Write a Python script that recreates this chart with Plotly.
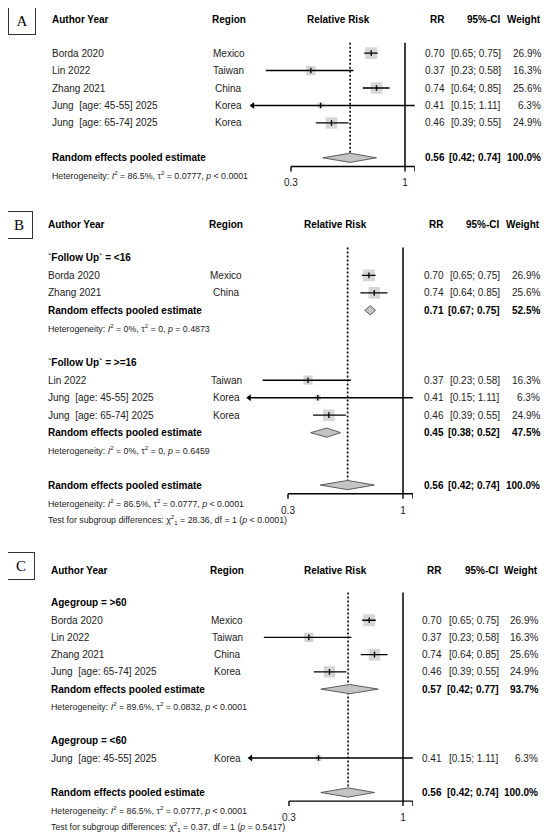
import math
import plotly.graph_objects as go

# ---- data ----
study = ["Borda 2020", "Lin 2022", "Zhang 2021", "Jung  [age: 45-55] 2025", "Jung  [age: 65-74] 2025"]
region = ["Mexico", "Taiwan", "China", "Korea", "Korea"]
rr = [0.70, 0.37, 0.74, 0.41, 0.46]
ci_lo = [0.65, 0.23, 0.64, 0.15, 0.39]
ci_hi = [0.75, 0.58, 0.85, 1.11, 0.55]
weight = [26.9, 16.3, 25.6, 6.3, 24.9]

overall_est = [0.56, 0.42, 0.74, 100.0]
overall_het = ["86.5%", "0.0777", "&lt; 0.0001"]

fu_labels = ["`Follow Up` = &lt;16", "`Follow Up` = &gt;=16"]
fu_members = [[0, 2], [1, 3, 4]]
fu_pooled = [[0.71, 0.67, 0.75, 52.5], [0.45, 0.38, 0.52, 47.5]]
fu_het = [["0%", "0", " = 0.4873"], ["0%", "0", " = 0.6459"]]
fu_test = ["28.36", "1", "&lt; 0.0001"]

age_labels = ["Agegroup = &gt;60", "Agegroup = &lt;60"]
age_members = [[0, 1, 2, 4], [3]]
age_pooled = [[0.57, 0.42, 0.77, 93.7], None]
age_het = [["89.6%", "0.0832", "&lt; 0.0001"], None]
age_test = ["0.37", "1", "= 0.5417"]

tick_vals = [0.3, 1, 1.11]
tick_labels = ["0.3", "1"]

# ---- layout / styling ----
# the page body has an 8px margin, so the figure is shrunk by that much and all
# pixel positions below are given in window coordinates
OFF = 8
W, H = 550 - OFF, 839 - OFF
XMIN, XMAX = 0.2, 1.11
FONT = "Liberation Sans, Arial, sans-serif"
TXT = "#222222"
SQ = "#c4c4c4"

GEO = {
    "A": dict(y0=18.2, dy=17.45, lab=50, reg=229, rr=447, ci=503, wt=543, rel=338, t03=291, t1=405, box=(8, 7)),
    "B": dict(y0=223.0, dy=17.47, lab=46, reg=226, rr=446, ci=502, wt=542, rel=335, t03=288, t1=403, box=(5, 212)),
    "C": dict(y0=568.5, dy=17.23, lab=49, reg=227, rr=444, ci=501, wt=540, rel=335.5, t03=289, t1=403, box=(7, 552)),
}

panels = [
    ("A", [(None, [0, 1, 2, 3, 4], None, None)], None),
    ("B", [(fu_labels[k], fu_members[k], fu_pooled[k], fu_het[k]) for k in range(2)], fu_test),
    ("C", [(age_labels[k], age_members[k], age_pooled[k], age_het[k]) for k in range(2)], age_test),
]


def paper_x(px):
    return (px - OFF) / W


def paper_y(py):
    return 1 - (py - OFF) / H


def het_text(h):
    return (f"Heterogeneity: <i>I</i><sup>2</sup> = {h[0]}, \u03c4<sup>2</sup> = {h[1]}, "
            f"<i>p</i> {h[2].strip()}")


def fmt_ci(lo, hi):
    return f"[{lo:.2f}; {hi:.2f}]"


fig = go.Figure()
ann = []

for n, (letter, groups, test) in enumerate(panels, start=1):
    g = GEO[letter]
    sfx = "" if n == 1 else str(n)
    xa, ya = "x" + sfx, "y" + sfx

    def px(v):
        return g["t03"] + (math.log(v) - math.log(0.3)) / math.log(1 / 0.3) * (g["t1"] - g["t03"])

    def txt(s, x, row, anchor="left", size=10, bold=False, color=TXT):
        ann.append(dict(text=f"<b>{s}</b>" if bold else s, x=paper_x(x), xref="paper", y=row, yref=ya,
                        xanchor=anchor, yanchor="middle", showarrow=False,
                        font=dict(family=FONT, size=size, color=color)))

    # headers
    hr = 0.1
    txt("Author Year", g["lab"], hr, bold=True, color="black")
    txt("Region", g["reg"], hr, "center", bold=True, color="black")
    txt("Relative Risk", g["rel"], hr, "center", bold=True, color="black")
    txt("RR", g["rr"], hr, "right", bold=True, color="black")
    txt("95%-CI", g["ci"], hr, "right", bold=True, color="black")
    txt("Weight", g["wt"], hr, "right", bold=True, color="black")

    # panel letter box
    bx, by = g["box"]
    ann.append(dict(text=letter, x=paper_x(bx + 13.5), y=paper_y(by + 13.5), xref="paper", yref="paper",
                    xanchor="center", yanchor="middle",
                    showarrow=False, width=24, height=24, borderpad=1, bordercolor="#333", borderwidth=1,
                    font=dict(family="Liberation Serif, Times New Roman, serif", size=15, color="black")))

    # walk the rows
    r = 2
    st_x, st_y, st_s, ci_x, ci_y, ar_x, ar_y = [], [], [], [], [], [], []
    diamonds = []
    for label, members, pooled, het in groups:
        if label:
            txt(label, g["lab"], r, bold=True, color="black")
            r += 1
        for i in members:
            txt(study[i], g["lab"], r)
            txt(region[i], g["reg"], r, "center")
            txt(f"{rr[i]:.2f}", g["rr"], r, "right")
            txt(fmt_ci(ci_lo[i], ci_hi[i]), g["ci"], r, "right")
            txt(f"{weight[i]:.1f}%", g["wt"], r, "right")
            st_x.append(rr[i]); st_y.append(r); st_s.append(2.3 * math.sqrt(weight[i]))
            ci_x += [max(ci_lo[i], XMIN), min(ci_hi[i], XMAX), None]
            ci_y += [r, r, None]
            if ci_lo[i] < XMIN:
                ar_x.append(XMIN); ar_y.append(r)
            r += 1
        if pooled:
            txt("Random effects pooled estimate", g["lab"], r, bold=True, color="black")
            txt(f"{pooled[0]:.2f}", g["rr"], r, "right", bold=True, color="black")
            txt(fmt_ci(pooled[1], pooled[2]), g["ci"], r, "right", bold=True, color="black")
            txt(f"{pooled[3]:.1f}%", g["wt"], r, "right", bold=True, color="black")
            diamonds.append((pooled, r))
            r += 1
        if het:
            txt(het_text(het), g["lab"], r, size=8.8)
            r += 1
        r += 1

    ov_row = r
    txt("Random effects pooled estimate", g["lab"], ov_row, bold=True, color="black")
    txt(f"{overall_est[0]:.2f}", g["rr"], ov_row, "right", bold=True, color="black")
    txt(fmt_ci(overall_est[1], overall_est[2]), g["ci"], ov_row, "right", bold=True, color="black")
    txt(f"{overall_est[3]:.1f}%", g["wt"], ov_row, "right", bold=True, color="black")
    diamonds.append((overall_est, ov_row))
    txt(het_text(overall_het), g["lab"], ov_row + 1, size=8.8)
    last = ov_row + 1
    if test:
        txt(f"Test for subgroup differences: \u03c7<sup>2</sup><sub>{test[1]}</sub> = {test[0]}, "
            f"df = {test[1]} (<i>p</i> {test[2]})", g["lab"], ov_row + 2, size=8.8)
        last = ov_row + 2

    axis_row = ov_row + 0.5
    dh = 4.6 / g["dy"]
    top_line = 1.4

    # reference lines
    fig.add_trace(go.Scatter(x=[1, 1], y=[top_line, axis_row], mode="lines",
                             line=dict(color="black", width=1.5), xaxis=xa, yaxis=ya, hoverinfo="skip"))
    fig.add_trace(go.Scatter(x=[overall_est[0]] * 2, y=[top_line, ov_row - dh], mode="lines",
                             line=dict(color="black", width=1.6, dash="2px,2px"),
                             xaxis=xa, yaxis=ya, hoverinfo="skip"))

    # squares, CI lines, estimate ticks
    fig.add_trace(go.Scatter(x=st_x, y=st_y, mode="markers", xaxis=xa, yaxis=ya,
                             marker=dict(symbol="square", size=st_s, color=SQ, line=dict(width=0))))
    fig.add_trace(go.Scatter(x=ci_x, y=ci_y, mode="lines", xaxis=xa, yaxis=ya,
                             line=dict(color="black", width=1.4), connectgaps=False))
    if ar_x:
        fig.add_trace(go.Scatter(x=ar_x, y=ar_y, mode="markers", xaxis=xa, yaxis=ya, cliponaxis=False,
                                 marker=dict(symbol="triangle-left", size=6, color="black")))
    fig.add_trace(go.Scatter(x=st_x, y=st_y, mode="markers", xaxis=xa, yaxis=ya,
                             marker=dict(symbol="line-ns", size=4, line=dict(color="black", width=1.3))))

    # diamonds
    for est, row in diamonds:
        fig.add_trace(go.Scatter(x=[est[1], est[0], est[2], est[0], est[1]],
                                 y=[row, row - dh, row, row + dh, row],
                                 mode="lines", fill="toself", fillcolor=SQ,
                                 line=dict(color="#4d4d4d", width=0.9), xaxis=xa, yaxis=ya))

    # x axis drawn R-style (line from first to last tick, ticks pointing down)
    tl = 5 / g["dy"]
    ax_x, ax_y = [tick_vals[0], tick_vals[-1], None], [axis_row, axis_row, None]
    for t in tick_vals:
        ax_x += [t, t, None]
        ax_y += [axis_row, axis_row + tl, None]
    fig.add_trace(go.Scatter(x=ax_x, y=ax_y, mode="lines", line=dict(color="black", width=1.4),
                             xaxis=xa, yaxis=ya, cliponaxis=False))
    fig.add_trace(go.Scatter(x=tick_vals[:len(tick_labels)], y=[axis_row + 1.0] * len(tick_labels),
                             mode="text", text=tick_labels, textfont=dict(family=FONT, size=10, color=TXT),
                             xaxis=xa, yaxis=ya, cliponaxis=False))

    # axes: x log over the plotting strip, y = row index (reversed)
    y_top = max(-1.2, (OFF - g["y0"]) / g["dy"])
    y_bot = min(last + 0.9, (839 - 1 - g["y0"]) / g["dy"])
    fig.update_layout({
        "xaxis" + sfx: dict(type="log", range=[math.log10(XMIN), math.log10(XMAX)],
                            domain=[paper_x(px(XMIN)), paper_x(px(XMAX))], visible=False, anchor=ya),
        "yaxis" + sfx: dict(range=[y_bot, y_top],
                            domain=[paper_y(g["y0"] + y_bot * g["dy"]), paper_y(g["y0"] + y_top * g["dy"])],
                            visible=False, anchor=xa),
    })

fig.update_layout(
    width=W, height=H,
    margin=dict(l=0, r=0, t=0, b=0),
    paper_bgcolor="white", plot_bgcolor="white",
    showlegend=False,
    annotations=ann,
    font=dict(family=FONT, color=TXT),
)

fig.write_html("out.html")
